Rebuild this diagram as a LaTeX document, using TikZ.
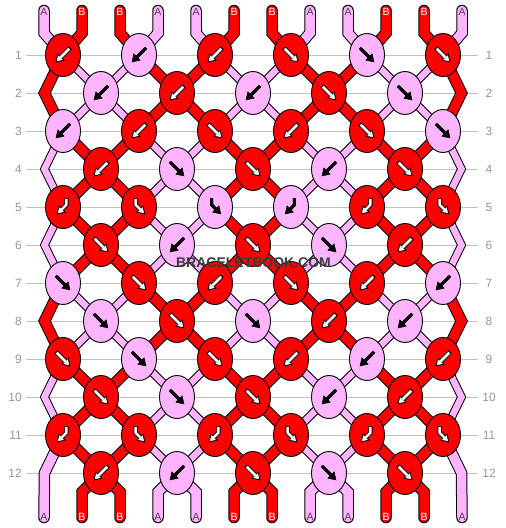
\documentclass[tikz,border=0pt]{standalone}
\usepackage{fontspec}
\setmainfont{Liberation Sans}
\usetikzlibrary{shapes.geometric}

\definecolor{knotred}{RGB}{255,0,0}
\definecolor{knotpink}{RGB}{255,180,255}
\definecolor{gridgrey}{RGB}{192,192,192}
\definecolor{numgrey}{RGB}{150,150,150}
\definecolor{letterpurple}{RGB}{85,55,90}
\definecolor{markgrey}{RGB}{60,60,60}

\newcommand\straightglyph{%
  \draw[iconline] (-6.2,-6.2) -- (2.2,2.2);
  \filldraw[iconhead] (6,6) -- (4.5,-0.9) -- (-0.9,4.5) -- cycle;
  \draw[iconcore] (-5.5,-5.5) -- (2.2,2.2);
}
\newcommand\bentglyph{%
  \draw[iconline] (-3,-7.7) -- (-3,-2) -- (1.2,2.2);
  \filldraw[iconhead] (5,6) -- (3.45,-0.93) -- (-1.93,4.45) -- cycle;
  \draw[iconcore] (-3,-7) -- (-3,-2) -- (1.2,2.2);
}

\tikzset{
  knotR/.style={ellipse, draw=black, line width=0.9pt, fill=knotred,
    minimum width=35pt, minimum height=43pt, inner sep=0pt},
  knotP/.style={knotR, fill=knotpink},
  strand/.style={draw=black, line width=1pt, double distance=9.5pt,
    line join=miter, double=#1},
  th-knotred/.style={strand=knotred},
  th-knotpink/.style={strand=knotpink, double distance=6.5pt},
  tail/.style={strand=#1, line cap=round},
  gridline/.style={draw=gridgrey, line width=1pt},
  rownum/.style={text=numgrey, font=\fontsize{12}{12}\selectfont, inner sep=0pt},
  endA/.style={text=letterpurple, font=\fontsize{10.5}{10.5}\selectfont, inner sep=0pt},
  endB/.style={endA, text=white},
  iconR/.style={scale=1.15,
    iconline/.style={draw=black, line width=4.4pt},
    iconhead/.style={fill=white, draw=black, line width=0.9pt, line join=miter},
    iconcore/.style={draw=white, line width=2.5pt}},
  iconP/.style={scale=1.15,
    iconline/.style={draw=black, line width=3pt},
    iconhead/.style={fill=black, draw=black, line width=0.6pt},
    iconcore/.style={draw=black, line width=3pt}},
  flipf/.style={}, flipb/.style={xscale=-1},
  flipfb/.style={}, flipbf/.style={xscale=-1},
  glyphf/.pic={\straightglyph}, glyphb/.pic={\straightglyph},
  glyphfb/.pic={\bentglyph}, glyphbf/.pic={\bentglyph}
}

\begin{document}
\begin{tikzpicture}[x=1pt,y=-1pt]
\useasboundingbox (0,0) rectangle (506,528);
\fill[white] (0,0) rectangle (506,528);

% thread slots: ends, knots and side bends
\foreach \p in {1,...,12}{
  \pgfmathsetmacro\x{44+38*(\p-1)}
  \coordinate (top-\p) at (\x,10.5);
  \coordinate (s-0-\p) at (\x,33);
  \coordinate (s-13-\p) at (\x,492);
  \coordinate (bot-\p) at (\x,517.5);
}
\foreach \r in {1,...,12}{
  \foreach \p in {1,...,12}{
    \pgfmathsetmacro\x{ifthenelse(mod(\r,2)==1, 76*ceil(\p/2)-13,
      ifthenelse(\p==1,44.5,ifthenelse(\p==12,461.5,76*floor(\p/2)+25)))}
    \pgfmathsetmacro\y{55+38*(\r-1)}
    \coordinate (s-\r-\p) at (\x,\y);
  }
}

%Straight Lines: row grid and row numbers
\foreach \r in {1,...,12}{
  \pgfmathsetmacro\y{55+38*(\r-1)}
  \draw[gridline] (26,\y) -- (478,\y);
  \node[rownum, anchor=east] (num-l-\r) at (22,\y) {\r};
  \node[rownum] (num-r-\r) at (489,\y) {\r};
}

%Shape: threads between knots
\foreach \r/\pat in {1/2,2/2,3/1,4/1,5/1,6/1,7/2,8/2,9/1,10/1,11/1}{
  \pgfmathtruncatemacro\rr{\r+1}
  \foreach \p in {2,...,11}{
    \pgfmathtruncatemacro\isred{(mod(\p+2,4)<2)==(\pat==1)}
    \ifnum\isred=1 \def\col{knotred}\else\def\col{knotpink}\fi
    \draw[th-\col] (s-\r-\p) -- (s-\rr-\p);
  }
}

%Shape: threads turning at the edges
\foreach \r/\col in {2/knotred,4/knotpink,6/knotpink,8/knotred,10/knotpink}{
  \pgfmathtruncatemacro\ra{\r-1}
  \pgfmathtruncatemacro\rb{\r+1}
  \draw[th-\col] (s-\ra-1) -- (s-\r-1) -- (s-\rb-1);
  \draw[th-\col] (s-\ra-12) -- (s-\r-12) -- (s-\rb-12);
}
\draw[tail=knotpink] (s-11-1) -- (s-12-1) -- (bot-1);
\draw[tail=knotpink] (s-11-12) -- (s-12-12) -- (bot-12);

%Shape: loose ends
\foreach \p/\col in {1/knotpink,2/knotred,3/knotred,4/knotpink,5/knotpink,6/knotred,
    7/knotred,8/knotpink,9/knotpink,10/knotred,11/knotred,12/knotpink}{
  \draw[tail=\col] (top-\p) -- (s-0-\p) -- (s-1-\p);
}
\foreach \p/\col in {2/knotred,3/knotred,4/knotpink,5/knotpink,6/knotred,
    7/knotred,8/knotpink,9/knotpink,10/knotred,11/knotred}{
  \draw[tail=\col] (s-12-\p) -- (s-13-\p) -- (bot-\p);
}

%Shape: knots with their arrows
\foreach \r/\knots in {
    1/{R/b,P/b,R/b,R/f,P/f,R/f},
    2/{P/b,R/b,P/b,R/f,P/f},
    3/{P/b,R/b,R/f,R/b,R/f,P/f},
    4/{R/b,P/f,R/f,P/b,R/f},
    5/{R/bf,R/fb,P/fb,P/bf,R/bf,R/fb},
    6/{R/f,P/b,R/f,P/f,R/b},
    7/{P/f,R/f,R/b,R/f,R/b,P/b},
    8/{P/f,R/f,P/f,R/b,P/b},
    9/{R/f,P/f,R/f,R/b,P/b,R/b},
    10/{R/f,P/f,R/f,P/b,R/b},
    11/{R/bf,R/fb,R/bf,R/fb,R/bf,R/fb},
    12/{R/b,P/b,R/f,P/f,R/f}}{
  \foreach \c/\t [count=\k] in \knots {
    \pgfmathtruncatemacro\pp{2*\k}
    \node[knot\c] (knot-\r-\k) at (s-\r-\pp) {};
    \pic[icon\c, flip\t] at (knot-\r-\k) {glyph\t};
  }
}

% Text Node: thread letters
\foreach \p/\l in {1/A,2/B,3/B,4/A,5/A,6/B,7/B,8/A,9/A,10/B,11/B,12/A}{
  \pgfmathsetmacro\x{44+38*(\p-1)}
  \node[end\l] (end-t-\p) at (\x,12) {\l};
  \node[end\l] (end-b-\p) at (\x,516.5) {\l};
}

% Text Node: watermark
\node[text=markgrey, font=\bfseries\fontsize{14}{14}\selectfont, inner sep=0pt]
  (mark) at (253.5,263) {BRACELETBOOK.COM};

\end{tikzpicture}
\end{document}
